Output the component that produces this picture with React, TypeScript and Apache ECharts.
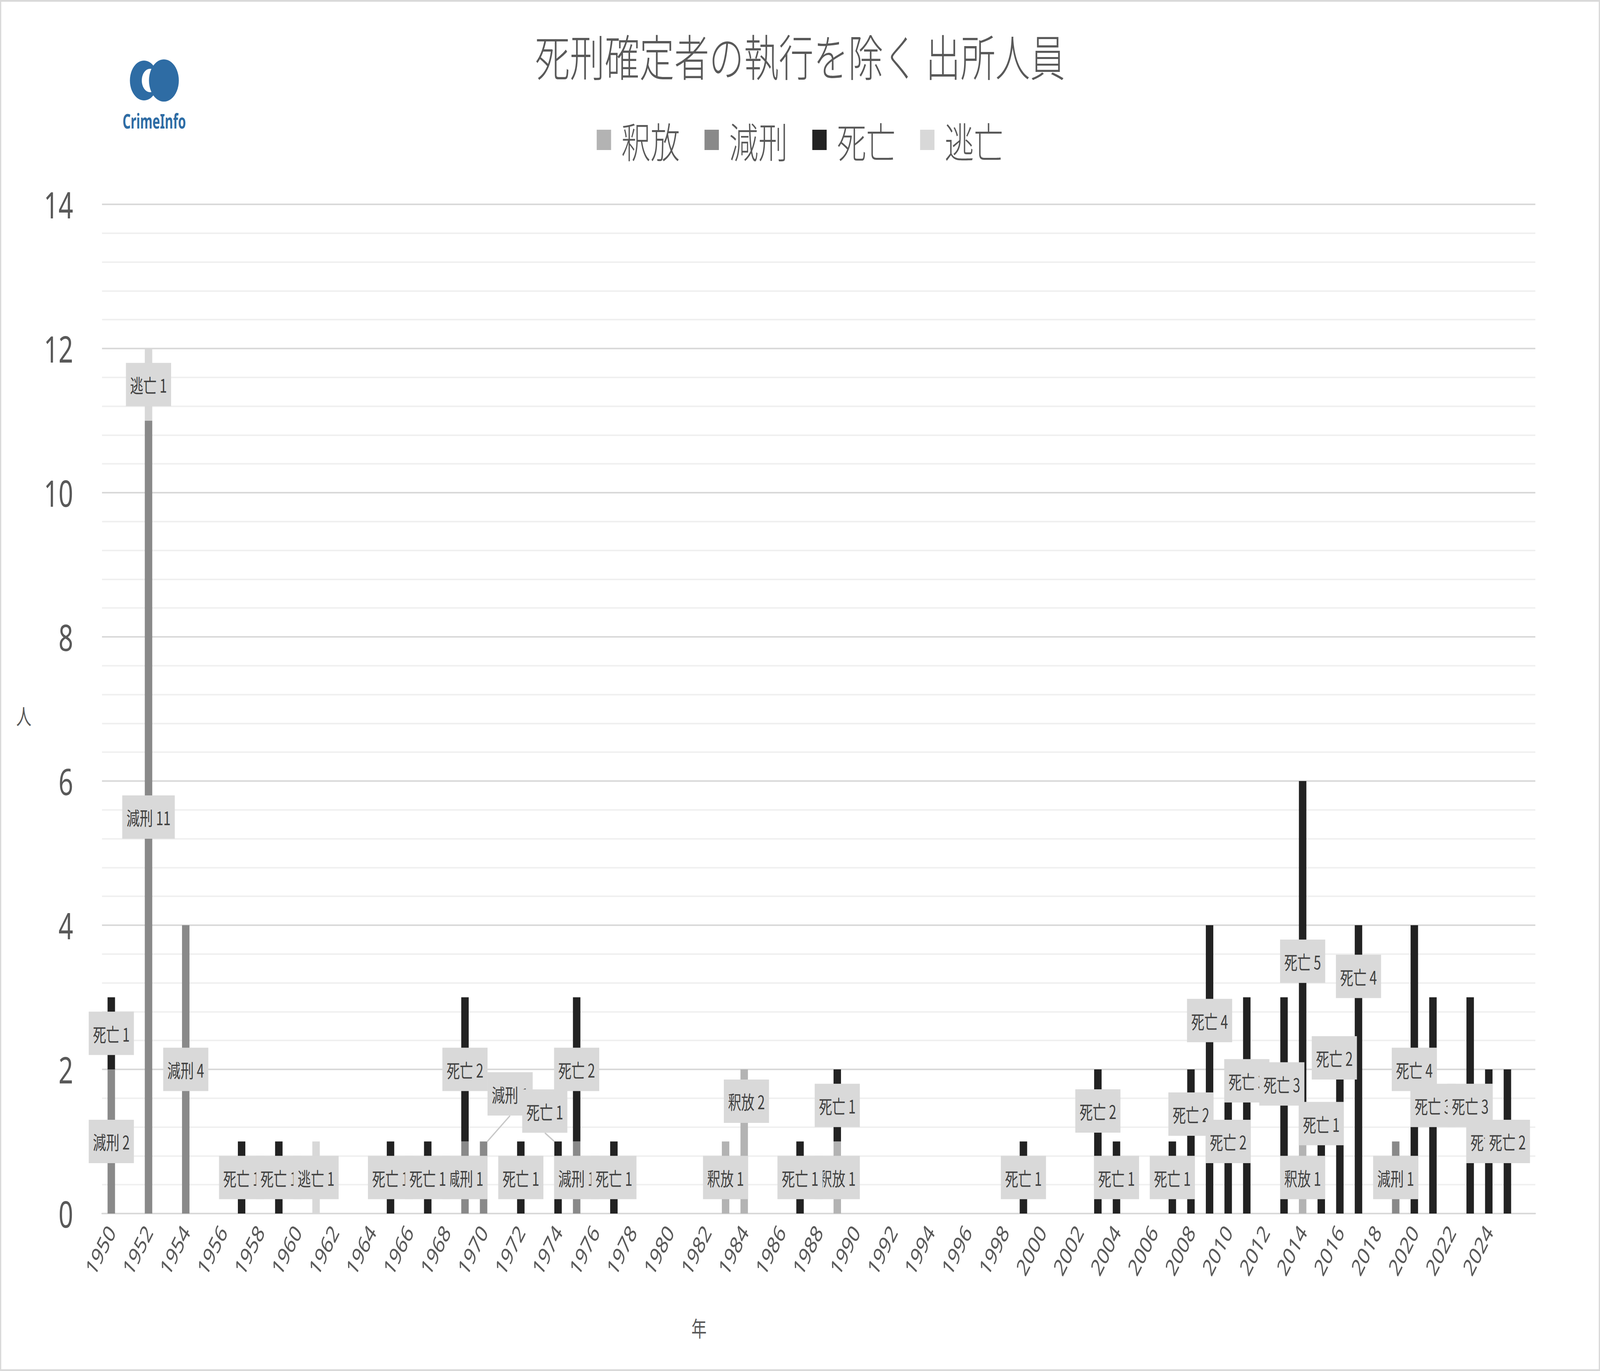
import React, { useEffect, useRef } from 'react';
import * as echarts from 'echarts';

const titleText = '死刑確定者の執行を除く 出所人員';
const yAxisName = '人';
const xAxisName = '年';

const years = [
  '1950', '1951', '1952', '1953', '1954', '1955', '1956', '1957', '1958', '1959',
  '1960', '1961', '1962', '1963', '1964', '1965', '1966', '1967', '1968', '1969',
  '1970', '1971', '1972', '1973', '1974', '1975', '1976', '1977', '1978', '1979',
  '1980', '1981', '1982', '1983', '1984', '1985', '1986', '1987', '1988', '1989',
  '1990', '1991', '1992', '1993', '1994', '1995', '1996', '1997', '1998', '1999',
  '2000', '2001', '2002', '2003', '2004', '2005', '2006', '2007', '2008', '2009',
  '2010', '2011', '2012', '2013', '2014', '2015', '2016', '2017', '2018', '2019',
  '2020', '2021', '2022', '2023', '2024', '2025', '',
];

// 釈放
const releaseCounts = [
  0, 0, 0, 0, 0, 0, 0, 0, 0, 0,
  0, 0, 0, 0, 0, 0, 0, 0, 0, 0,
  0, 0, 0, 0, 0, 0, 0, 0, 0, 0,
  0, 0, 0, 1, 2, 0, 0, 0, 0, 1,
  0, 0, 0, 0, 0, 0, 0, 0, 0, 0,
  0, 0, 0, 0, 0, 0, 0, 0, 0, 0,
  0, 0, 0, 0, 1, 0, 0, 0, 0, 0,
  0, 0, 0, 0, 0, 0, 0,
];

// 減刑
const commutationCounts = [
  2, 0, 11, 0, 4, 0, 0, 0, 0, 0,
  0, 0, 0, 0, 0, 0, 0, 0, 0, 1,
  1, 0, 0, 0, 0, 1, 0, 0, 0, 0,
  0, 0, 0, 0, 0, 0, 0, 0, 0, 0,
  0, 0, 0, 0, 0, 0, 0, 0, 0, 0,
  0, 0, 0, 0, 0, 0, 0, 0, 0, 0,
  0, 0, 0, 0, 0, 0, 0, 0, 0, 1,
  0, 0, 0, 0, 0, 0, 0,
];

// 死亡
const deathCounts = [
  1, 0, 0, 0, 0, 0, 0, 1, 0, 1,
  0, 0, 0, 0, 0, 1, 0, 1, 0, 2,
  0, 0, 1, 0, 1, 2, 0, 1, 0, 0,
  0, 0, 0, 0, 0, 0, 0, 1, 0, 1,
  0, 0, 0, 0, 0, 0, 0, 0, 0, 1,
  0, 0, 0, 2, 1, 0, 0, 1, 2, 4,
  2, 3, 0, 3, 5, 1, 2, 4, 0, 0,
  4, 3, 0, 3, 2, 2, 0,
];

// 逃亡
const escapeCounts = [
  0, 0, 1, 0, 0, 0, 0, 0, 0, 0,
  0, 1, 0, 0, 0, 0, 0, 0, 0, 0,
  0, 0, 0, 0, 0, 0, 0, 0, 0, 0,
  0, 0, 0, 0, 0, 0, 0, 0, 0, 0,
  0, 0, 0, 0, 0, 0, 0, 0, 0, 0,
  0, 0, 0, 0, 0, 0, 0, 0, 0, 0,
  0, 0, 0, 0, 0, 0, 0, 0, 0, 0,
  0, 0, 0, 0, 0, 0, 0,
];

const seriesNames = ['釈放', '減刑', '死亡', '逃亡'];
const seriesValues = [releaseCounts, commutationCounts, deathCounts, escapeCounts];
const seriesColors = ['#b3b3b3', '#898989', '#222222', '#d8d8d8'];

const yMin = 0;
const yMax = 14;
const yInterval = 2;

// labels that were dragged away from the segment centre in the original (px)
const labelShifts: Record<string, [number, number]> = {
  '減刑|1970': [96, -214],
  '死亡|1974': [-48, -170],
  '釈放|1984': [8, -103],
  '死亡|2003': [0, -78],
  '死亡|2008': [0, -70],
  '死亡|2009': [0, -125],
  '死亡|2011': [0, -63],
  '死亡|2013': [-8, -55],
  '死亡|2015': [0, -138],
  '死亡|2016': [-20, -214],
  '死亡|2017': [0, -238],
};
// labels drawn as callouts with a leader to their bar
const calloutKeys = ['減刑|1970', '死亡|1974', '死亡|2008'];

const TEXT = '#595959';
const CJK = '"Noto Sans CJK JP", "Noto Sans", sans-serif';
const LOGO_BLUE = '#2e6ca4';
const W0 = 5789;
const H0 = 3509;

export default function App() {
  const ref = useRef<HTMLDivElement>(null);
  const vw = typeof window !== 'undefined' ? window.innerWidth : W0;
  const vh = typeof window !== 'undefined' ? window.innerHeight : H0;
  const sx = vw / W0;
  const sy = vh / H0;

  useEffect(() => {
    if (!ref.current) return;
    const chart = echarts.init(ref.current, undefined, { renderer: 'svg' });

    const buildData = (name: string, values: number[]) =>
      values.map((v, i) => {
        if (!v) return '-';
        const key = `${name}|${years[i]}`;
        if (calloutKeys.includes(key)) {
          return { value: v, labelLine: { show: true } };
        }
        return v;
      });

    const series = seriesNames.map((name, k) => ({
      name,
      type: 'bar',
      stack: 'total',
      barWidth: 27,
      itemStyle: { color: seriesColors[k] },
      data: buildData(name, seriesValues[k]),
      label: {
        show: true,
        position: 'inside',
        formatter: '{a} {c}',
        fontSize: 48,
        fontFamily: CJK,
        color: '#404040',
        backgroundColor: '#d9d9d9',
        padding: [32, 15, 31, 15],
      },
      labelLine: { show: false, lineStyle: { color: '#c8c8c8', width: 4 } },
      labelLayout: (params: any) => {
        const idx = params.dataIndex;
        const shift = labelShifts[`${name}|${years[idx]}`];
        return shift ? { dx: shift[0], dy: shift[1] } : {};
      },
    }));

    chart.setOption({
      animation: false,
      backgroundColor: '#ffffff',
      title: {
        text: titleText,
        left: 'center',
        top: 72,
        textStyle: { fontSize: 126, fontWeight: 300, color: TEXT, fontFamily: CJK },
      },
      legend: {
        data: seriesNames,
        left: 'center',
        top: 300,
        icon: 'rect',
        itemWidth: 52,
        itemHeight: 52,
        itemGap: 89,
        textStyle: { fontSize: 106, fontWeight: 300, color: TEXT, fontFamily: CJK, padding: [0, 0, 0, 32] },
      },
      grid: { left: 369, right: 234, top: 523, bottom: 403, containLabel: false },
      xAxis: {
        type: 'category',
        data: years,
        axisLine: { show: true, lineStyle: { color: '#d9d9d9', width: 4 } },
        axisTick: { show: false },
        axisLabel: {
          interval: 1,
          rotate: 55,
          fontSize: 61,
          color: TEXT,
          fontFamily: '"Noto Sans", sans-serif',
          margin: 36,
        },
        splitLine: { show: false },
      },
      yAxis: {
        type: 'value',
        min: yMin,
        max: yMax,
        interval: yInterval,
        axisLine: { show: false },
        axisTick: { show: false },
        axisLabel: { fontSize: 93, color: TEXT, fontFamily: '"Noto Sans", sans-serif', margin: 104 },
        splitLine: { show: true, lineStyle: { color: '#d9d9d9', width: 4 } },
        minorTick: { show: false, splitNumber: 5 },
        minorSplitLine: { show: true, lineStyle: { color: '#f0f0f0', width: 4 } },
      },
      series,
      graphic: [
        {
          type: 'rect',
          shape: { x: 2, y: 2, width: 5785, height: 3505 },
          style: { fill: 'none', stroke: '#d9d9d9', lineWidth: 5 },
          silent: true,
        },
        {
          type: 'text',
          x: 86,
          y: 1830,
          style: { text: yAxisName, fontSize: 55, fontFamily: CJK, fill: TEXT, align: 'center', verticalAlign: 'middle' },
        },
        {
          type: 'text',
          x: 2529,
          y: 3397,
          style: { text: xAxisName, fontSize: 55, fontFamily: CJK, fill: TEXT, align: 'center', verticalAlign: 'middle' },
        },
        {
          type: 'group',
          x: 558,
          y: 250,
          children: [
            { type: 'circle', shape: { cx: -37, cy: -44, r: 51 }, style: { fill: LOGO_BLUE } },
            { type: 'circle', shape: { cx: -15, cy: -44, r: 30 }, style: { fill: '#ffffff' } },
            { type: 'circle', shape: { cx: 35, cy: -44, r: 54 }, style: { fill: LOGO_BLUE } },
            {
              type: 'text',
              x: 0,
              y: 59,
              scaleX: 0.88,
              style: {
                text: 'CrimeInfo',
                fontSize: 52,
                fontWeight: 'bold',
                fontFamily: '"Noto Sans", sans-serif',
                fill: LOGO_BLUE,
                align: 'center',
                verticalAlign: 'middle',
              },
            },
          ],
        },
      ],
    });

    return () => chart.dispose();
  }, []);

  return (
    <div style={{ position: 'fixed', left: 0, top: 0, width: '100vw', height: '100vh', overflow: 'hidden', background: '#fff' }}>
      <div
        ref={ref}
        style={{
          width: W0,
          height: H0,
          transform: `scale(${sx}, ${sy})`,
          transformOrigin: '0 0',
          background: '#fff',
        }}
      />
    </div>
  );
}
